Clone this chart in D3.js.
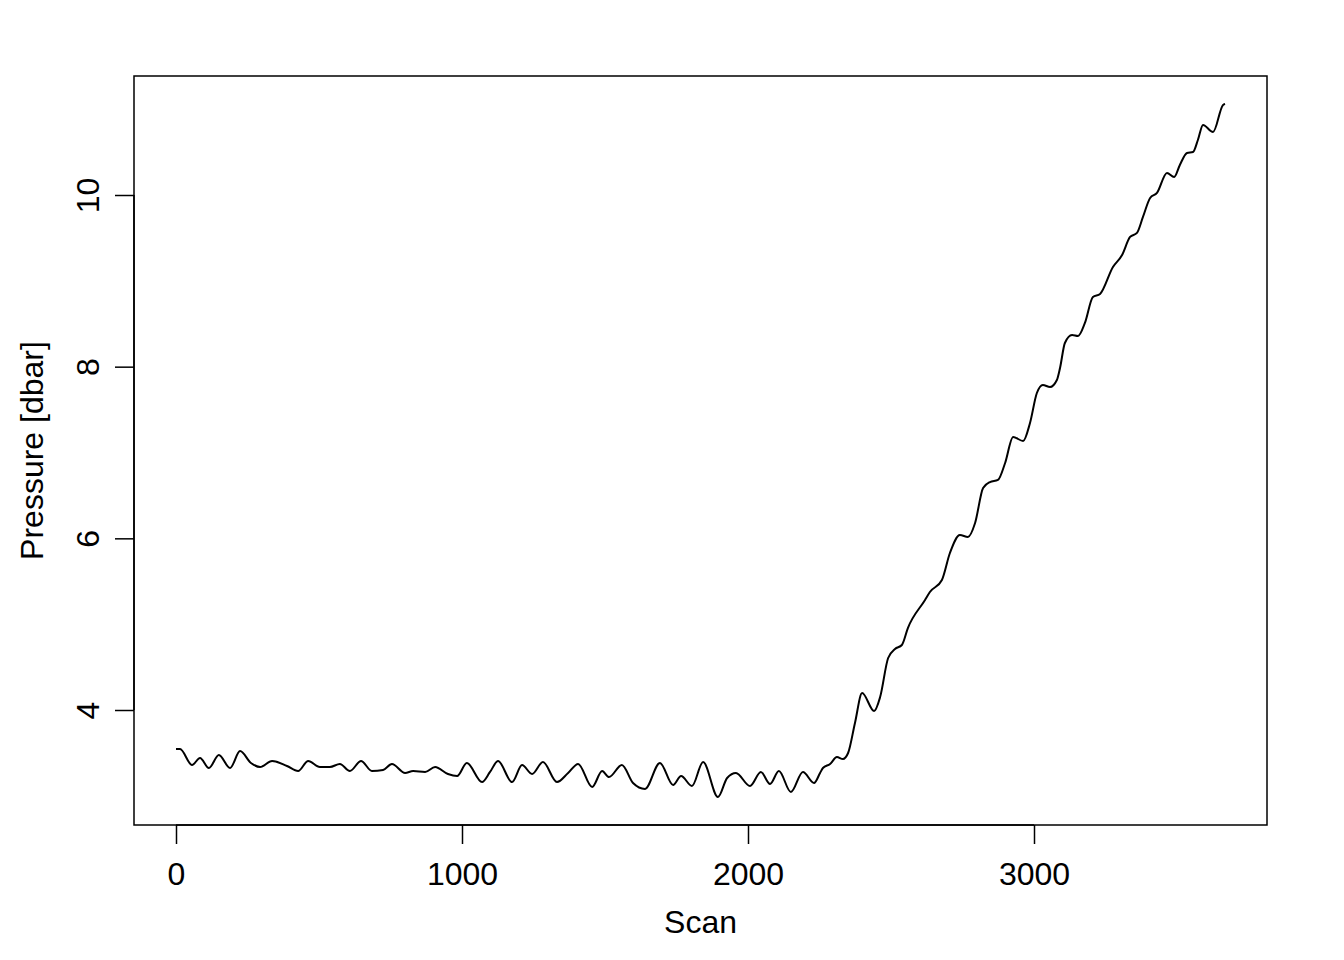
<!DOCTYPE html>
<html>
<head>
<meta charset="utf-8">
<script src="https://cdn.jsdelivr.net/npm/d3@7"></script>
<style>
  html, body { margin: 0; padding: 0; background: #fff; }
  svg { display: block; }
  text { font-family: "Liberation Sans", Arial, Helvetica, sans-serif; fill: #000; }
</style>
</head>
<body>
<svg id="chart" width="1344" height="960"></svg>
<script>
const scan = [0,14,56,84,115,150,189,224,262,294,336,388,427,462,503,538,573,608,647,685,724,755,801,829,871,906,951,983,1017,1070,1098,1126,1175,1210,1245,1283,1332,1371,1406,1455,1490,1514,1559,1598,1640,1692,1738,1766,1804,1843,1895,1927,1958,2007,2045,2077,2108,2150,2192,2231,2252,2262,2287,2311,2332,2350,2374,2399,2441,2462,2490,2514,2538,2559,2619,2636,2678,2706,2741,2769,2794,2822,2846,2874,2899,2927,2962,2986,3010,3031,3056,3080,3091,3108,3133,3154,3178,3206,3231,3276,3308,3336,3360,3381,3406,3430,3465,3490,3510,3535,3556,3573,3591,3626,3661,3668];
const pressure = [3.545,3.545,3.359,3.441,3.324,3.476,3.324,3.522,3.383,3.336,3.406,3.348,3.289,3.406,3.336,3.336,3.371,3.289,3.406,3.289,3.301,3.371,3.266,3.289,3.278,3.336,3.254,3.231,3.383,3.161,3.278,3.406,3.161,3.359,3.254,3.394,3.161,3.266,3.371,3.103,3.289,3.219,3.359,3.149,3.080,3.383,3.126,3.231,3.115,3.394,2.986,3.208,3.266,3.115,3.278,3.138,3.289,3.045,3.278,3.149,3.266,3.324,3.371,3.452,3.429,3.499,3.849,4.198,3.988,4.151,4.606,4.711,4.757,4.955,5.282,5.375,5.515,5.829,6.039,6.016,6.179,6.587,6.656,6.680,6.878,7.181,7.134,7.344,7.693,7.787,7.763,7.845,7.985,8.276,8.369,8.358,8.509,8.812,8.847,9.161,9.301,9.511,9.558,9.744,9.965,10.024,10.257,10.210,10.350,10.490,10.501,10.641,10.816,10.734,11.049,11.060];
const xTicks = [0, 1000, 2000, 3000];
const yTicks = [4, 6, 8, 10];
const xLabel = "Scan";
const yLabel = "Pressure [dbar]";

const data = scan.map((s, i) => ({ s: s, p: pressure[i] }));

const svg = d3.select("#chart");
const box = { left: 134, right: 1267, top: 76, bottom: 825 };
const fs = 32;

// x: 0 -> 176, 1000 -> 462
const x = d3.scaleLinear().domain([0, 1000]).range([176, 462]);
// y: 4 -> 710, 10 -> 195
const y = d3.scaleLinear().domain([4, 10]).range([710, 195]);

// plot line
const line = d3.line().x(d => x(d.s)).y(d => y(d.p)).curve(d3.curveMonotoneX);
svg.append("path")
  .datum(data)
  .attr("d", line)
  .attr("fill", "none")
  .attr("stroke", "#000")
  .attr("stroke-width", 2)
  .attr("stroke-linejoin", "round");

// box
svg.append("rect")
  .attr("x", box.left).attr("y", box.top)
  .attr("width", box.right - box.left).attr("height", box.bottom - box.top)
  .attr("fill", "none").attr("stroke", "#000").attr("stroke-width", 1.5);

// x axis
const xAxis = d3.axisBottom(x).tickValues(xTicks).tickSize(19).tickPadding(18).tickFormat(d3.format("d"));
const gx = svg.append("g").attr("transform", `translate(0,${box.bottom})`).call(xAxis);
gx.select(".domain").attr("d", `M${x(xTicks[0])},0H${x(xTicks[xTicks.length-1])}`).attr("stroke-width", 1.5);
gx.selectAll(".tick line").attr("stroke-width", 1.5);
gx.selectAll(".tick text").attr("font-size", fs).attr("font-family", "Liberation Sans, Arial, sans-serif").attr("fill", "#000");

// y axis
const yAxis = d3.axisLeft(y).tickValues(yTicks).tickSize(19).tickFormat(d3.format("d"));
const gy = svg.append("g").attr("transform", `translate(${box.left},0)`).call(yAxis);
gy.select(".domain").attr("d", `M0,${y(yTicks[0])}V${y(yTicks[yTicks.length-1])}`).attr("stroke-width", 1.5);
gy.selectAll(".tick line").attr("stroke-width", 1.5);
gy.selectAll(".tick text")
  .attr("font-size", fs).attr("font-family", "Liberation Sans, Arial, sans-serif").attr("fill", "#000")
  .attr("x", null).attr("dy", null)
  .attr("text-anchor", "middle")
  .attr("transform", "translate(-35,0) rotate(-90)");

// axis titles
svg.append("text")
  .attr("x", (box.left + box.right) / 2).attr("y", 933)
  .attr("text-anchor", "middle").attr("font-size", fs)
  .text(xLabel);
svg.append("text")
  .attr("transform", `translate(43,${(box.top + box.bottom) / 2}) rotate(-90)`)
  .attr("text-anchor", "middle").attr("font-size", fs)
  .text(yLabel);
</script>
</body>
</html>
